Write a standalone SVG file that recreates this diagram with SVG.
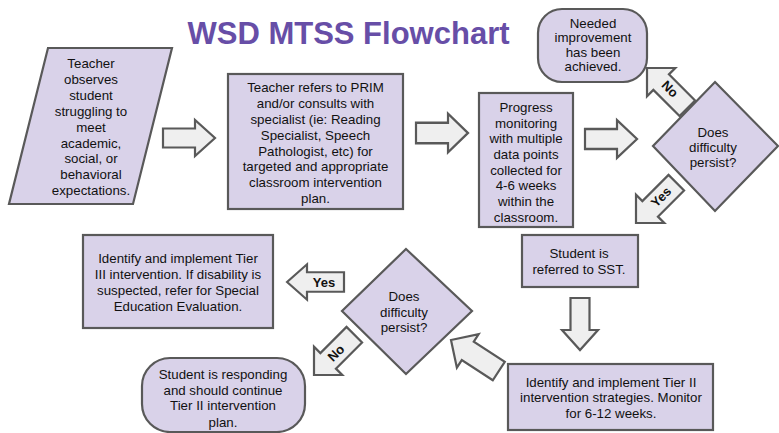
<svg xmlns="http://www.w3.org/2000/svg" width="779" height="433" viewBox="0 0 779 433">
<style>
.node{fill:#d9d2e9;stroke:#595959;stroke-width:2.2}
.arr{fill:#efefef;stroke:#595959;stroke-width:2.2;stroke-linejoin:miter}
text{font-family:"Liberation Sans",Arial,sans-serif;font-size:13.3px;fill:#111;text-anchor:middle}
.lbl{font-weight:bold;font-size:13px}
.title{font-size:31px;font-weight:bold;fill:#674ea7}
</style>
<defs>
<polygon id="a52" points="-52,-9.5 -20,-9.5 -20,-18 0,0 -20,18 -20,9.5 -52,9.5"/>
<polygon id="a56" points="-57,-11 -20,-11 -20,-20 0,0 -20,20 -20,11 -57,11"/>
</defs>
<rect width="779" height="433" fill="#fff"/>
<text class="title" x="348.5" y="44">WSD MTSS Flowchart</text>

<g id="n1">
<polygon class="node" points="48,48 172,48 133,204 9,204"/>
<text x="91" y="68">Teacher</text>
<text x="91" y="84">observes</text>
<text x="91" y="100">student</text>
<text x="91" y="115.5">struggling to</text>
<text x="91" y="131.5">meet</text>
<text x="91" y="147.5">academic,</text>
<text x="91" y="163">social, or</text>
<text x="91" y="179">behavioral</text>
<text x="91" y="195">expectations.</text>
</g>

<g id="n2">
<rect class="node" x="228" y="74" width="175" height="135"/>
<text x="315.5" y="92">Teacher refers to PRIM</text>
<text x="315.5" y="108">and/or consults with</text>
<text x="315.5" y="123.5">specialist (ie: Reading</text>
<text x="315.5" y="139.5">Specialist, Speech</text>
<text x="315.5" y="155.5">Pathologist, etc) for</text>
<text x="315.5" y="171">targeted and appropriate</text>
<text x="315.5" y="187">classroom intervention</text>
<text x="315.5" y="203">plan.</text>
</g>

<g id="n3">
<rect class="node" x="479" y="93" width="94" height="134"/>
<text x="526" y="112">Progress</text>
<text x="526" y="127.5">monitoring</text>
<text x="526" y="143">with multiple</text>
<text x="526" y="159">data points</text>
<text x="526" y="174.5">collected for</text>
<text x="526" y="190">4-6 weeks</text>
<text x="526" y="206">within the</text>
<text x="526" y="221.5">classroom.</text>
</g>

<g id="n4">
<rect class="node" x="538" y="9" width="109" height="73" rx="24" ry="24"/>
<text x="593" y="28">Needed</text>
<text x="593" y="42">improvement</text>
<text x="593" y="56.5">has been</text>
<text x="593" y="70.5">achieved.</text>
</g>

<g id="n5">
<polygon class="node" points="715,82 778,146 715,211 653,146"/>
<text x="713" y="137">Does</text>
<text x="713" y="152">difficulty</text>
<text x="713" y="167">persist?</text>
</g>

<g id="n6">
<rect class="node" x="522" y="235" width="116" height="52"/>
<text x="579" y="258">Student is</text>
<text x="579" y="274">referred to SST.</text>
</g>

<g id="n7">
<rect class="node" x="508" y="364" width="205" height="66"/>
<text x="611" y="387">Identify and implement Tier II</text>
<text x="611" y="402">intervention strategies. Monitor</text>
<text x="611" y="418">for 6-12 weeks.</text>
</g>

<g id="n8">
<polygon class="node" points="406,249 472,311 406,374 342,311"/>
<text x="404" y="301">Does</text>
<text x="404" y="317">difficulty</text>
<text x="404" y="332">persist?</text>
</g>

<g id="n9">
<rect class="node" x="83" y="235" width="190" height="93"/>
<text x="178" y="263">Identify and implement Tier</text>
<text x="178" y="279">III intervention. If disability is</text>
<text x="178" y="295">suspected, refer for Special</text>
<text x="178" y="311">Education Evaluation.</text>
</g>

<g id="n10">
<rect class="node" x="142" y="358" width="163" height="74" rx="28" ry="28"/>
<text x="223" y="379">Student is responding</text>
<text x="223" y="394.5">and should continue</text>
<text x="223" y="410">Tier II intervention</text>
<text x="223" y="426.5">plan.</text>
</g>

<g id="connectors">
<use href="#a52" class="arr" transform="translate(215,138)"/>
<use href="#a52" class="arr" transform="translate(468,133) scale(1,1.08)"/>
<use href="#a52" class="arr" transform="translate(637,139) scale(1,1.05)"/>
<use href="#a52" class="arr" transform="translate(580,350) rotate(90)"/>
<use href="#a56" class="arr" transform="translate(647,68) rotate(225)"/>
<text class="lbl" transform="translate(670,89) rotate(45)" y="4.5">No</text>
<use href="#a56" class="arr" transform="translate(636,223) rotate(135)"/>
<text class="lbl" transform="translate(661,197) rotate(-45)" y="4.5">Yes</text>
<use href="#a56" class="arr" transform="translate(287,282) rotate(180) scale(1,0.88)"/>
<text class="lbl" x="324" y="287">Yes</text>
<use href="#a56" class="arr" transform="translate(314,375) rotate(135)"/>
<text class="lbl" transform="translate(336,353) rotate(-45)" y="4.5">No</text>
<use href="#a56" class="arr" transform="translate(451,340) rotate(213)"/>
</g>
</svg>
